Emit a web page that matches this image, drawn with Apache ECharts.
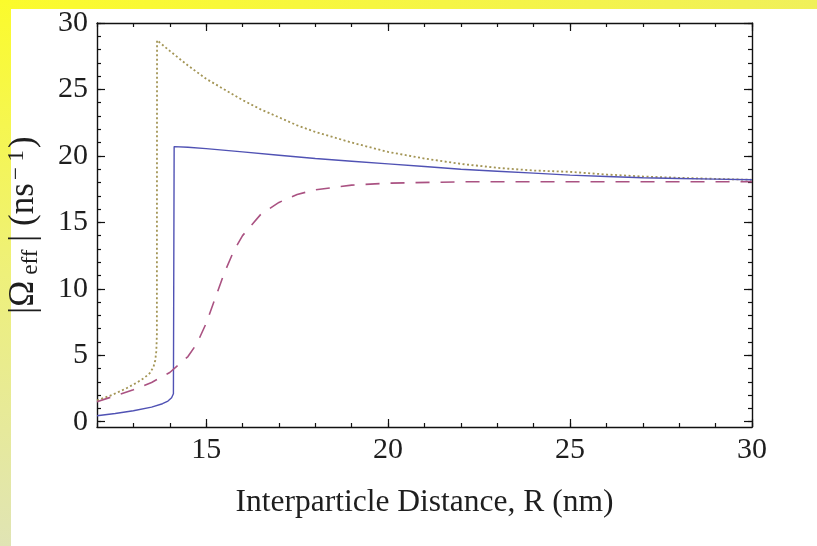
<!DOCTYPE html>
<html>
<head>
<meta charset="utf-8">
<title>Effective coupling vs interparticle distance</title>
<script src="https://cdn.jsdelivr.net/npm/echarts@6/dist/echarts.min.js"></script>
<style>
  html, body { margin: 0; padding: 0; background: #ffffff; }
  #chart { width: 817px; height: 546px; }
</style>
</head>
<body>
<div id="chart"></div>
<script>
// Interparticle distance R (nm) and |Omega_eff| (ns^-1) for the three curves
const rDotted = [12, 12.4, 12.8, 13.1, 13.3, 13.45, 13.55, 13.6, 13.63, 13.645, 13.65,
  14.0, 14.5, 15, 15.5, 16, 16.5, 17, 17.5, 18, 19, 20, 21, 22, 23, 24, 25, 26, 27, 28, 29, 30];
const vDotted = [1.6, 2.0, 2.5, 2.95, 3.3, 3.65, 4.1, 4.6, 5.3, 6.5, 28.7,
  27.9, 26.8, 25.8, 25.0, 24.2, 23.5, 22.9, 22.3, 21.8, 21.0, 20.3, 19.8, 19.4, 19.1, 18.9, 18.8, 18.6, 18.45, 18.35, 18.27, 18.2];

const rSolid = [12, 12.5, 13, 13.5, 13.8, 13.95, 14.05, 14.1, 14.12,
  14.5, 15, 16, 17, 18, 19, 20, 21, 22, 23, 24, 25, 26, 27, 28, 29, 30];
const vSolid = [0.45, 0.62, 0.82, 1.1, 1.35, 1.55, 1.8, 2.1, 20.7,
  20.65, 20.55, 20.3, 20.05, 19.8, 19.6, 19.4, 19.2, 19.0, 18.85, 18.7, 18.55, 18.45, 18.35, 18.3, 18.25, 18.2];

const rDashed = [12, 12.5, 13, 13.5, 14, 14.5, 14.75, 15, 15.25, 15.5, 15.75, 16, 16.5, 17, 17.5, 18, 19, 20, 22, 25, 30];
const vDashed = [1.5, 1.95, 2.4, 2.95, 3.7, 4.9, 5.9, 7.4, 9.3, 11.2, 12.8, 14.0, 15.6, 16.5, 17.1, 17.45, 17.8, 17.95, 18.05, 18.05, 18.05];

// Axis ranges and tick labels
const xMin = 12, xMax = 30;
const yMin = -0.4, yMax = 30;
const xTickLabels = [15, 20, 25, 30];
const yTickLabels = [0, 5, 10, 15, 20, 25, 30];
const xMinorTicks = [];
for (let v = 12; v <= 30; v++) xMinorTicks.push(v);
const yMinorTicks = [];
for (let v = 0; v <= 30; v++) yMinorTicks.push(v);

const pair = (xs, ys) => xs.map((x, i) => [x, ys[i]]);

const FONT = '"Liberation Serif", "DejaVu Serif", serif';
const INK = '#1e1e1e';
const frameLine = { show: true, onZero: false, lineStyle: { color: '#111', width: 1.4 } };
const hiddenLine = { show: false, onZero: false };

function xAxisDef(position, ticks, len, withLabels) {
  return {
    type: 'value', position, min: xMin, max: xMax,
    axisLine: withLabels !== null ? frameLine : hiddenLine,
    splitLine: { show: false },
    axisTick: { show: true, inside: true, length: len, customValues: ticks,
      lineStyle: { color: '#111', width: 1.2 } },
    axisLabel: withLabels ? {
      show: true, customValues: xTickLabels, margin: 8,
      fontFamily: FONT, fontSize: 30, color: INK
    } : { show: false }
  };
}
function yAxisDef(position, ticks, len, withLabels) {
  return {
    type: 'value', position, min: yMin, max: yMax,
    axisLine: withLabels !== null ? frameLine : hiddenLine,
    splitLine: { show: false },
    axisTick: { show: true, inside: true, length: len, customValues: ticks,
      lineStyle: { color: '#111', width: 1.2 } },
    axisLabel: withLabels ? {
      show: true, customValues: yTickLabels, margin: 9,
      fontFamily: FONT, fontSize: 30, color: INK
    } : { show: false }
  };
}

const xBottom = xAxisDef('bottom', xTickLabels, 8, true);
xBottom.name = 'Interparticle Distance, R (nm)';
xBottom.nameLocation = 'middle';
xBottom.nameGap = 60;
xBottom.nameTextStyle = { fontFamily: FONT, fontSize: 31.5, color: INK };

const yLeft = yAxisDef('left', yTickLabels, 8, true);
yLeft.name = '|Ω{sub|eff}| (ns{sup|− 1})';
yLeft.nameLocation = 'middle';
yLeft.nameGap = 55;
yLeft.nameRotate = 90;
yLeft.nameTextStyle = {
  fontFamily: FONT, fontSize: 35, color: INK,
  rich: {
    sub: { fontFamily: FONT, fontSize: 23, color: INK, verticalAlign: 'bottom', padding: [12, 8, 0, 6] },
    sup: { fontFamily: FONT, fontSize: 23, color: INK, verticalAlign: 'top', padding: [0, 2, 14, 3] }
  }
};

const chart = echarts.init(document.getElementById('chart'), null, { renderer: 'canvas' });
chart.setOption({
  animation: false,
  backgroundColor: '#ffffff',
  graphic: [
    { type: 'rect', silent: true, z: 0,
      shape: { x: 0, y: 0, width: 817, height: 9 },
      style: { fill: { type: 'linear', x: 0, y: 0, x2: 1, y2: 0,
        colorStops: [{ offset: 0, color: '#fbfb2c' }, { offset: 1, color: '#f0f05a' }] } } },
    { type: 'rect', silent: true, z: 0,
      shape: { x: 0, y: 0, width: 11, height: 546 },
      style: { fill: { type: 'linear', x: 0, y: 0, x2: 0, y2: 1,
        colorStops: [{ offset: 0, color: '#fbfb2c' }, { offset: 0.5, color: '#eef07a' }, { offset: 1, color: '#e0e4b4' }] } } }
  ],
  grid: { left: 97, right: 65, top: 23, bottom: 119, containLabel: false, outerBoundsMode: 'none' },
  xAxis: [
    xBottom,
    xAxisDef('bottom', xMinorTicks, 4, null),
    xAxisDef('top', xTickLabels, 8, false),
    xAxisDef('top', xMinorTicks, 4, null)
  ],
  yAxis: [
    yLeft,
    yAxisDef('left', yMinorTicks, 4, null),
    yAxisDef('right', yTickLabels, 8, false),
    yAxisDef('right', yMinorTicks, 4, null)
  ],
  series: [
    { type: 'line', name: 'dotted', xAxisIndex: 0, yAxisIndex: 0, data: pair(rDotted, vDotted),
      showSymbol: false, smooth: false, clip: true,
      lineStyle: { color: '#a39555', width: 1.8, type: [2, 2.5] } },
    { type: 'line', name: 'solid', xAxisIndex: 0, yAxisIndex: 0, data: pair(rSolid, vSolid),
      showSymbol: false, smooth: false, clip: true,
      lineStyle: { color: '#5052b4', width: 1.4, type: 'solid' } },
    { type: 'line', name: 'dashed', xAxisIndex: 0, yAxisIndex: 0, data: pair(rDashed, vDashed),
      showSymbol: false, smooth: false, clip: true,
      lineStyle: { color: '#aa5282', width: 1.6, type: [14, 11] } }
  ]
});
</script>
</body>
</html>
